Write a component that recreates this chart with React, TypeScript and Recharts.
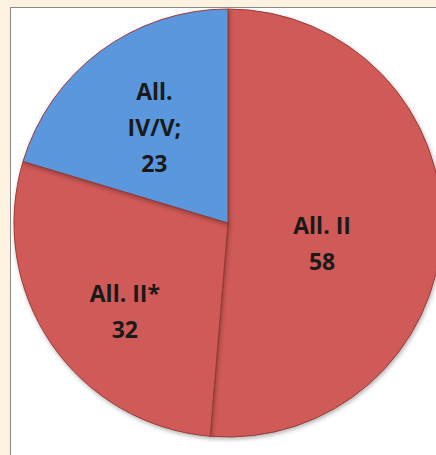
import React from "react";
import { PieChart, Pie, Cell } from "recharts";

const categories = ["All. II", "All. II*", "All. IV/V;"];
const labelLines = [["All. II", "58"], ["All. II*", "32"], ["All.", "IV/V;", "23"]];
const values = [58, 32, 23];
const colors = ["#D05A57", "#D05A57", "#5B97DC"];

const data = categories.map((name, i) => ({ name, value: values[i], lines: labelLines[i] }));

const RAD = Math.PI / 180;

const renderLabel = (props: any) => {
  const { cx, cy, midAngle, outerRadius, percent, index } = props;
  const lines: string[] = data[index].lines;
  const frac = percent > 0.5 ? 0.44 : 0.6;
  const r = outerRadius * frac;
  const x = cx + r * Math.cos(-midAngle * RAD) + (percent > 0.5 ? 0 : 3);
  const y = cy + r * Math.sin(-midAngle * RAD) + (lines.length > 2 ? 7 : 16);
  const lh = 36;
  const top = y - ((lines.length - 1) * lh) / 2;
  return (
    <text
      x={x}
      y={top}
      textAnchor="middle"
      dominantBaseline="central"
      fill="#1a1a1a"
      fontFamily="'Open Sans', sans-serif"
      fontWeight={700}
      fontSize={23}
    >
      {lines.map((l, i) => (
        <tspan key={i} x={x} dy={i === 0 ? 0 : lh}>
          {l}
        </tspan>
      ))}
    </text>
  );
};

export default function App() {
  return (
    <div
      style={{
        position: "absolute",
        left: 0,
        top: 0,
        width: 436,
        height: 455,
        background: "#FDF1DF",
        overflow: "hidden",
      }}
    >
      <style>{`.recharts-sector { filter: drop-shadow(1px 2px 2px rgba(0,0,0,0.3)); }`}</style>
      <div
        style={{
          position: "absolute",
          left: 10,
          top: 7,
          width: 440,
          height: 460,
          background: "#FFFFFF",
          border: "1px solid #8a8a8a",
        }}
      />
      <div style={{ position: "absolute", left: 0, top: 0 }}>
        <PieChart width={436} height={455}>
          <Pie
            data={data}
            dataKey="value"
            nameKey="name"
            cx={223}
            cy={218}
            outerRadius={214}
            startAngle={90}
            endAngle={-270}
            stroke="#9B3A37"
            strokeWidth={1}
            label={renderLabel}
            labelLine={false}
            isAnimationActive={false}
          >
            {data.map((d, i) => (
              <Cell key={d.name} fill={colors[i]} />
            ))}
          </Pie>
        </PieChart>
      </div>
    </div>
  );
}
